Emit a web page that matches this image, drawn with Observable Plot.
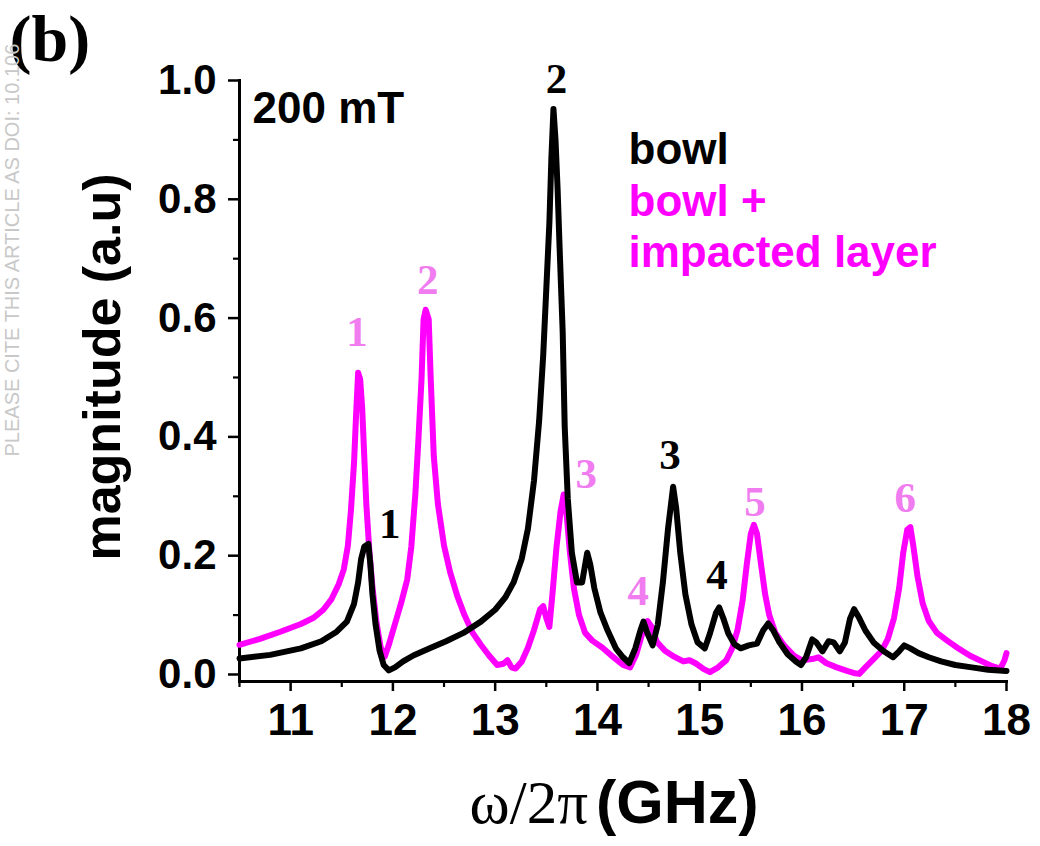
<!DOCTYPE html>
<html><head><meta charset="utf-8">
<script src="https://cdn.jsdelivr.net/npm/d3@7"></script>
<script src="https://cdn.jsdelivr.net/npm/@observablehq/plot@0.6"></script>
<style>body{margin:0;background:#fff}</style>
</head><body><div id="chart"></div>
<script>
// bowl + impacted layer (magenta)
const freqImpacted = [10.5,10.7,10.9,11.1,11.22,11.32,11.40,11.47,11.52,11.56,11.59,11.62,11.64,11.66,11.68,11.70,11.72,11.74,11.77,11.80,11.84,11.88,11.92,11.96,12.02,12.08,12.14,12.18,12.22,12.25,12.28,12.30,12.32,12.35,12.37,12.40,12.44,12.50,12.56,12.63,12.70,12.78,12.86,12.94,13.02,13.08,13.12,13.16,13.20,13.26,13.32,13.38,13.44,13.47,13.50,13.53,13.56,13.60,13.64,13.67,13.70,13.73,13.77,13.82,13.88,13.95,14.05,14.15,14.25,14.32,14.38,14.44,14.49,14.53,14.58,14.66,14.75,14.84,14.90,14.96,15.04,15.10,15.18,15.26,15.32,15.37,15.42,15.46,15.50,15.53,15.56,15.60,15.64,15.68,15.74,15.82,15.92,16.00,16.10,16.16,16.24,16.34,16.44,16.52,16.56,16.62,16.70,16.78,16.84,16.90,16.95,16.99,17.03,17.06,17.09,17.13,17.18,17.24,17.32,17.42,17.52,17.64,17.76,17.86,17.94,17.98,18.0];
const magImpacted = [0.050,0.060,0.072,0.085,0.095,0.109,0.127,0.152,0.177,0.217,0.277,0.357,0.437,0.508,0.497,0.447,0.367,0.287,0.207,0.147,0.087,0.046,0.030,0.050,0.085,0.120,0.160,0.215,0.305,0.397,0.497,0.598,0.614,0.598,0.497,0.367,0.287,0.217,0.172,0.132,0.100,0.070,0.050,0.032,0.016,0.018,0.024,0.012,0.010,0.022,0.045,0.075,0.110,0.115,0.095,0.080,0.135,0.215,0.275,0.303,0.267,0.207,0.145,0.100,0.070,0.057,0.045,0.030,0.016,0.012,0.034,0.070,0.090,0.080,0.055,0.040,0.030,0.022,0.024,0.019,0.009,0.004,0.012,0.024,0.045,0.075,0.125,0.185,0.237,0.252,0.237,0.185,0.135,0.100,0.070,0.050,0.032,0.024,0.026,0.029,0.019,0.012,0.006,0.002,0.001,0.012,0.026,0.040,0.060,0.095,0.145,0.205,0.244,0.248,0.215,0.165,0.120,0.090,0.070,0.057,0.045,0.032,0.022,0.014,0.010,0.024,0.036];

// bowl (black)
const freqBowl = [10.5,10.8,11.1,11.3,11.45,11.55,11.62,11.66,11.69,11.72,11.76,11.78,11.80,11.83,11.87,11.91,11.96,12.02,12.10,12.20,12.36,12.52,12.69,12.86,13.00,13.10,13.18,13.26,13.32,13.38,13.43,13.47,13.50,13.53,13.55,13.57,13.59,13.61,13.63,13.66,13.68,13.71,13.75,13.80,13.85,13.90,13.93,13.97,14.03,14.10,14.18,14.25,14.31,14.37,14.42,14.45,14.49,14.54,14.59,14.64,14.69,14.74,14.77,14.81,14.86,14.92,14.98,15.05,15.10,15.16,15.19,15.23,15.28,15.34,15.40,15.48,15.56,15.62,15.67,15.72,15.78,15.86,15.94,15.99,16.04,16.10,16.14,16.20,16.26,16.31,16.37,16.42,16.47,16.51,16.56,16.62,16.70,16.80,16.89,16.95,17.00,17.06,17.14,17.24,17.36,17.50,17.66,17.82,18.0];
const magBowl = [0.027,0.033,0.044,0.056,0.072,0.089,0.119,0.155,0.195,0.215,0.220,0.185,0.135,0.085,0.040,0.016,0.007,0.012,0.022,0.032,0.044,0.056,0.070,0.089,0.109,0.130,0.155,0.195,0.245,0.327,0.427,0.538,0.649,0.760,0.871,0.952,0.900,0.820,0.719,0.578,0.417,0.296,0.205,0.155,0.155,0.205,0.185,0.145,0.104,0.074,0.044,0.029,0.019,0.044,0.074,0.089,0.069,0.049,0.084,0.155,0.245,0.316,0.280,0.205,0.135,0.084,0.054,0.044,0.069,0.104,0.113,0.095,0.069,0.051,0.044,0.049,0.052,0.074,0.086,0.074,0.054,0.034,0.022,0.016,0.029,0.059,0.054,0.039,0.056,0.054,0.039,0.054,0.094,0.110,0.095,0.074,0.054,0.039,0.029,0.039,0.049,0.044,0.036,0.029,0.022,0.016,0.012,0.008,0.006];

// peak labels (data coordinates)
const bowlPeakNames = ["1","2","3","4"];
const bowlPeakFreq  = [11.97,13.60,14.71,15.17];
const bowlPeakMag   = [0.2525,1.002,0.369,0.167];
const impPeakNames = ["1","2","3","4","5","6"];
const impPeakFreq  = [11.65,12.34,13.89,14.40,15.54,17.01];
const impPeakMag   = [0.576,0.663,0.337,0.140,0.290,0.296];

const xMajor = [11,12,13,14,15,16,17,18];
const xMinor = [10.5,11.5,12.5,13.5,14.5,15.5,16.5,17.5];
const yMajor = [0,0.2,0.4,0.6,0.8,1.0];
const yMinor = [0.1,0.3,0.5,0.7,0.9];

const seriesNames = ["bowl","bowl +","impacted layer"];

const impacted = freqImpacted.map((f,i)=>({f, m: magImpacted[i]}));
const bowl = freqBowl.map((f,i)=>({f, m: magBowl[i]}));
const bowlPeaks = bowlPeakNames.map((n,i)=>({n, f: bowlPeakFreq[i], m: bowlPeakMag[i]}));
const impPeaks = impPeakNames.map((n,i)=>({n, f: impPeakFreq[i], m: impPeakMag[i]}));

const MAG = "#ff00ff", MAGL = "#f07cf0";
const SANS = "Liberation Sans, Arial, sans-serif";
const SERIF = "Liberation Serif, Times New Roman, serif";

const chart = Plot.plot({
  width: 1040, height: 846,
  marginLeft: 239, marginRight: 34, marginTop: 80, marginBottom: 165,
  x: {domain: [10.5, 18]},
  y: {domain: [-0.0118, 1]},
  style: {fontFamily: SANS, background: "white", color: "black", overflow: "visible"},
  marks: [
    Plot.axisX({ticks: xMajor, tickSize: 10, tickPadding: 12, strokeWidth: 2.5, fontSize: 44, fontWeight: "bold", label: null, tickFormat: d3.format("d")}),
    Plot.axisX({ticks: xMinor, tickSize: 6, strokeWidth: 2.2, tickFormat: () => "", label: null}),
    Plot.axisY({ticks: yMajor, tickSize: 11, tickPadding: 12, strokeWidth: 2.5, fontSize: 42, fontWeight: "bold", label: null, tickFormat: d3.format(".1f")}),
    Plot.axisY({ticks: yMinor, tickSize: 6, strokeWidth: 2.2, tickFormat: () => "", label: null}),
    Plot.frame({anchor: "bottom", stroke: "black", strokeWidth: 3}),
    Plot.frame({anchor: "left", stroke: "black", strokeWidth: 3}),
    Plot.line(impacted, {x: "f", y: "m", stroke: MAG, strokeWidth: 6, strokeLinejoin: "round"}),
    Plot.line(bowl, {x: "f", y: "m", stroke: "black", strokeWidth: 6, strokeLinejoin: "round"}),
    Plot.text(bowlPeaks, {x: "f", y: "m", text: "n", fill: "black", fontSize: 43, fontWeight: "bold", fontFamily: SERIF}),
    Plot.text(impPeaks, {x: "f", y: "m", text: "n", fill: MAGL, fontSize: 43, fontWeight: "bold", fontFamily: SERIF}),
    Plot.text(["200 mT"], {frameAnchor: "top-left", dx: 13, dy: 42, textAnchor: "start", lineAnchor: "bottom", fontSize: 44, fontWeight: "bold", fill: "black"}),
    Plot.text([seriesNames[0]], {frameAnchor: "top-left", dx: 389, dy: 83, textAnchor: "start", lineAnchor: "bottom", fontSize: 44, fontWeight: "bold", fill: "black"}),
    Plot.text([seriesNames[1]], {frameAnchor: "top-left", dx: 389, dy: 135, textAnchor: "start", lineAnchor: "bottom", fontSize: 44, fontWeight: "bold", fill: MAG}),
    Plot.text([seriesNames[2]], {frameAnchor: "top-left", dx: 389, dy: 186, textAnchor: "start", lineAnchor: "bottom", fontSize: 44, fontWeight: "bold", fill: MAG}),
    Plot.text(["magnitude (a.u)"], {frameAnchor: "left", dx: -136, dy: -14, rotate: -90, textAnchor: "middle", lineAnchor: "middle", fontSize: 52, fontWeight: "bold", fill: "black"}),
    Plot.text(["ω/2π"], {frameAnchor: "bottom", dx: -35, dy: 141, textAnchor: "end", lineAnchor: "bottom", fontSize: 61, fontFamily: SERIF, fill: "black"}),
    Plot.text(["(GHz)"], {frameAnchor: "bottom", dx: -27, dy: 141, textAnchor: "start", lineAnchor: "bottom", fontSize: 61, fontWeight: "bold", fill: "black"}),
    Plot.text(["(b)"], {frameAnchor: "top-left", dx: -230, dy: -20, textAnchor: "start", lineAnchor: "bottom", fontSize: 66, fontWeight: "bold", fontFamily: SERIF, fill: "black"}),
    Plot.text(["PLEASE CITE THIS ARTICLE AS DOI: 10.106"], {frameAnchor: "top-left", dx: -221, dy: 376, textAnchor: "start", lineAnchor: "bottom", rotate: -90, fontSize: 20, fontFamily: SANS, fill: "#c8c8c8"})
  ]
});
document.getElementById("chart").appendChild(chart);
</script>
</body></html>
